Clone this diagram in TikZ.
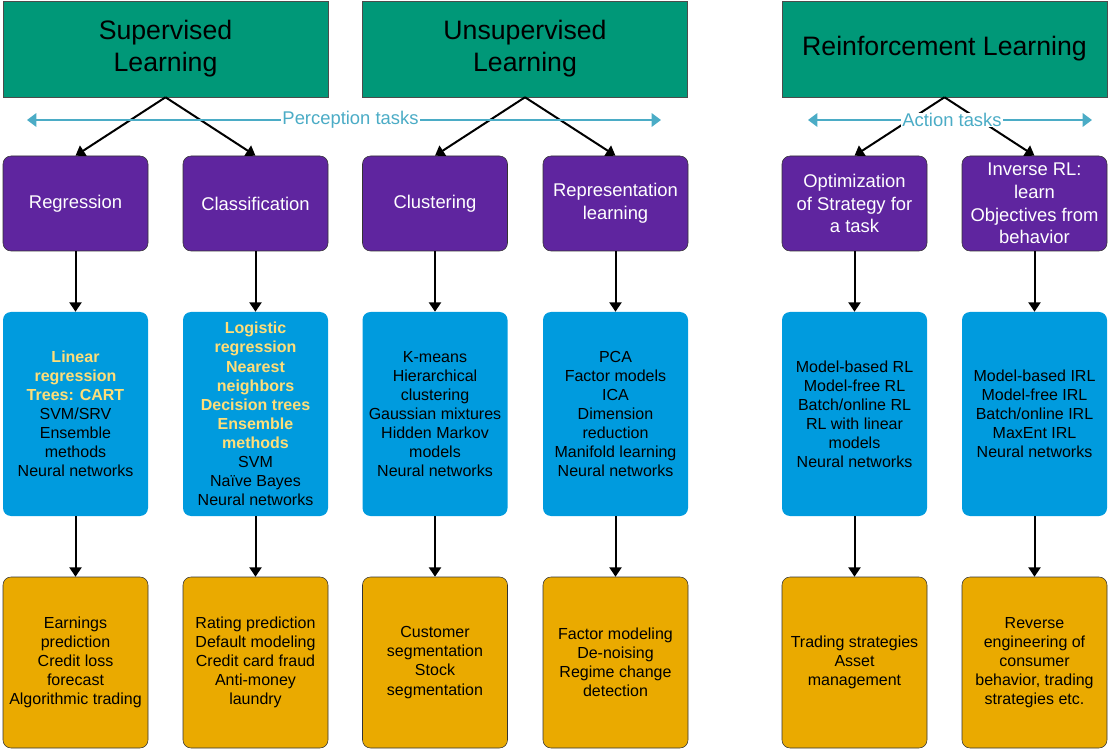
\documentclass[tikz,border=0pt]{standalone}
\usepackage{fontspec}
\setmainfont{Liberation Sans}
\usetikzlibrary{arrows.meta}
\definecolor{topgreen}{RGB}{0,152,120}
\definecolor{taskpurple}{RGB}{95,37,159}
\definecolor{methodblue}{RGB}{0,155,222}
\definecolor{useorange}{RGB}{234,170,0}
\definecolor{hiyellow}{RGB}{255,222,120}
\definecolor{spanblue}{RGB}{75,172,198}
\newcommand\hilite[1]{\textcolor{hiyellow}{\bfseries #1}}
\begin{document}
\begin{tikzpicture}[x=0.75pt,y=-0.75pt,
  topbox/.style={draw=black!70,fill=topgreen,minimum width=243.75pt,
    minimum height=72pt,align=center,font=\fontsize{20}{24}\selectfont},
  taskbox/.style={draw=black!80,fill=taskpurple,rounded corners=6pt,
    minimum width=108.75pt,minimum height=71.25pt,align=center,text=white,
    inner sep=1pt,font=\fontsize{13.8}{17}\selectfont},
  methodbox/.style={fill=methodblue,rounded corners=6pt,minimum width=108.75pt,
    minimum height=153pt,align=center,inner sep=1pt,
    font=\fontsize{12}{14.3}\selectfont},
  usebox/.style={draw=black!80,fill=useorange,rounded corners=6pt,
    minimum width=108.75pt,minimum height=128.25pt,align=center,inner sep=1pt,
    font=\fontsize{12}{14.3}\selectfont},
  link/.style={-{Triangle[width=9pt,length=7pt]},line width=1.5pt},
  span/.style={{Triangle[width=10pt,length=7pt]}-{Triangle[width=10pt,length=7pt]},
    spanblue,line width=2pt},
  spanlabel/.style={fill=white,text=spanblue,inner xsep=1pt,inner ysep=0pt,
    font=\fontsize{13.8}{15}\selectfont}]
  \useasboundingbox (0,0) rectangle (1114,752);

  % learning types
  \node[topbox] (sl) at (165.5,49) {Supervised\\Learning};
  \node[topbox] (ul) at (525,49) {Unsupervised\\Learning};
  \node[topbox] (rl) at (944.5,49) {Reinforcement Learning};

  % tasks
  \node[taskbox] (p1) at (75.5,203.5) {Regression};
  \node[taskbox] (p2) at (255.5,203.5) {Classification};
  \node[taskbox] (p3) at (435,203.5) {Clustering};
  \node[taskbox] (p4) at (615.5,203.5) {Representation\\learning};
  \node[taskbox] (p5) at (854.5,203.5) {Optimization\\of Strategy for\\a task};
  \node[taskbox] (p6) at (1034.5,203.5) {Inverse RL:\\learn\\Objectives from\\behavior};

  % methods
  \node[methodbox] (m1) at (75.5,414) {\hilite{Linear}\\\hilite{regression}\\
    \hilite{Trees: CART}\\SVM/SRV\\Ensemble\\methods\\Neural networks};
  \node[methodbox] (m2) at (255.5,414) {\hilite{Logistic}\\\hilite{regression}\\
    \hilite{Nearest}\\\hilite{neighbors}\\\hilite{Decision trees}\\
    \hilite{Ensemble}\\\hilite{methods}\\SVM\\Naïve Bayes\\Neural networks};
  \node[methodbox] (m3) at (435,414) {K-means\\Hierarchical\\clustering\\
    Gaussian mixtures\\Hidden Markov\\models\\Neural networks};
  \node[methodbox] (m4) at (615.5,414) {PCA\\Factor models\\ICA\\Dimension\\
    reduction\\Manifold learning\\Neural networks};
  \node[methodbox] (m5) at (854.5,414) {Model-based RL\\Model-free RL\\
    Batch/online RL\\RL with linear\\models\\Neural networks};
  \node[methodbox] (m6) at (1034.5,414) {Model-based IRL\\Model-free IRL\\
    Batch/online IRL\\MaxEnt IRL\\Neural networks};

  % applications
  \node[usebox] (u1) at (75.5,662.5) {Earnings\\prediction\\Credit loss\\
    forecast\\Algorithmic trading};
  \node[usebox] (u2) at (255.5,662.5) {Rating prediction\\Default modeling\\
    Credit card fraud\\Anti-money\\laundry};
  \node[usebox] (u3) at (435,662.5) {Customer\\segmentation\\Stock\\segmentation};
  \node[usebox] (u4) at (615.5,662.5) {Factor modeling\\De-noising\\
    Regime change\\detection};
  \node[usebox] (u5) at (854.5,662.5) {Trading strategies\\Asset\\management};
  \node[usebox] (u6) at (1034.5,662.5) {Reverse\\engineering of\\consumer\\
    behavior, trading\\strategies etc.};

  \draw[link] (sl.south) -- (p1.north);
  \draw[link] (sl.south) -- (p2.north);
  \draw[link] (ul.south) -- (p3.north);
  \draw[link] (ul.south) -- (p4.north);
  \draw[link] (rl.south) -- (p5.north);
  \draw[link] (rl.south) -- (p6.north);
  \foreach \i in {1,...,6} {
    \draw[link] (p\i) -- (m\i);
    \draw[link] (m\i) -- (u\i);
  }

  % task ranges
  \coordinate (pl) at (27,120);
  \coordinate (pr) at (661,120);
  \coordinate (al) at (808,120);
  \coordinate (ar) at (1092,120);
  \draw[span] (pl) -- (pr);
  \draw[span] (al) -- (ar);
  \node[spanlabel] (pt) at (350.5,120) {Perception tasks};
  \node[spanlabel] (at) at (952,120) {Action tasks};
\end{tikzpicture}
\end{document}
